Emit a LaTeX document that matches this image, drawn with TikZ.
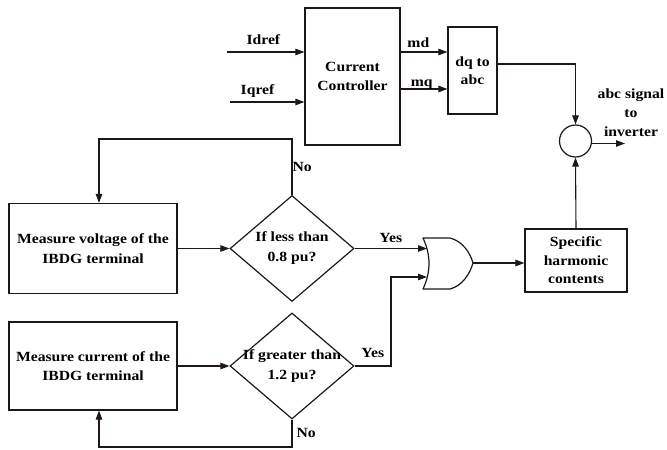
\documentclass[tikz,border=0pt]{standalone}
\usepackage{fontspec}
\setmainfont{Liberation Serif}[FakeStretch=1.12]
\definecolor{inkdark}{rgb}{0.12,0.09,0.09}
\usetikzlibrary{arrows.meta,positioning,shapes.geometric}

\begin{document}
\begin{tikzpicture}[x=1pt,y=-1pt,
    blk/.style={draw=inkdark,line width=1.2pt,align=center,inner sep=0pt,
      font=\bfseries\fontsize{14}{19.5}\selectfont},
    decision/.style={diamond,draw=inkdark,line width=1.2pt,inner sep=0pt,
      minimum width=124pt,minimum height=106pt},
    lbl/.style={font=\bfseries\fontsize{14}{19}\selectfont,align=center,inner sep=0pt},
    arr/.style={-{Triangle[length=9pt,width=6.5pt]},draw=inkdark,line width=1.1pt},
    wire/.style={draw=inkdark,line width=1.1pt}]
  \useasboundingbox (0,0) rectangle (667,450);
  % control path
  \node[blk,minimum width=95pt,minimum height=137pt] (cc) at (352.5,76.5) {Current\\Controller};
  \node[blk,minimum width=49pt,minimum height=87pt,font=\bfseries\fontsize{14}{18}\selectfont] (dq) at (472.5,70.5) {dq to\\abc};
  \node[circle,draw=inkdark,line width=1.2pt,minimum size=32pt,inner sep=0pt] (sum) at (575.5,141) {};
  \coordinate (idref) at (227,52);
  \coordinate (iqref) at (230,102);
  \coordinate (sigout) at (625,143.5);
  \draw[arr] (idref) -- node[lbl,pos=0.47,anchor=base,yshift=8pt] {Idref} (idref -| cc.west);
  \draw[arr] (iqref) -- node[lbl,pos=0.37,anchor=base,yshift=8pt] {Iqref} (iqref -| cc.west);
  \draw[arr] ([yshift=24.5pt]cc.east) -- node[lbl,pos=0.38,anchor=base,yshift=5pt] {md} ([yshift=24.5pt]cc.east -| dq.west);
  \draw[arr] ([yshift=-12.5pt]cc.east) -- node[lbl,pos=0.45,anchor=base,yshift=3pt] {mq} ([yshift=-12.5pt]cc.east -| dq.west);
  \draw[arr] ([yshift=6.5pt]dq.east) -| (sum.north);
  \draw[arr] (sum.east |- sigout) -- (sigout);
  \node[lbl] (siglbl) at (631,113) {abc signal\\to\\inverter};
  % fault detection
  \node[blk,minimum width=168pt,minimum height=90pt] (mv) at (93,248.5) {Measure voltage of the\\IBDG terminal};
  \node[blk,minimum width=168pt,minimum height=88pt] (mc) at (93,366) {Measure current of the\\IBDG terminal};
  \node[decision] (d1) at (292,248.5) {};
  \node[lbl,font=\bfseries\fontsize{14}{20}\selectfont] (d1txt) at (d1) {If less than\\0.8 pu?};
  \node[decision] (d2) at (292,366) {};
  \node[lbl,font=\bfseries\fontsize{14}{20}\selectfont] (d2txt) at (d2) {If greater than\\1.2 pu?};
  \node[blk,minimum width=102pt,minimum height=63pt,font=\bfseries\fontsize{14}{18.5}\selectfont] (hc) at (576,260.5) {Specific\\harmonic\\contents};
  \coordinate (nv) at (99,139);
  \coordinate (nc) at (99,447);
  \draw[arr] (mv.east) -- (d1.west);
  \draw[arr] (mc.east) -- (d2.west);
  \draw[arr] (d1.north) |- node[lbl,pos=0.25,right] {No} (nv) -- (nv |- mv.north);
  \draw[arr] (d2.south) |- node[lbl,pos=0.25,right=4pt] {No} (nc) -- (nc |- mc.south);
  % or gate
  \coordinate (orin1) at (427,248.5);
  \coordinate (orin2) at (427,277);
  \coordinate (orout) at (473,263);
  \draw[draw=inkdark,line width=1.2pt,line join=round] (423,238) -- (450,238)
    .. controls (462,241) and (470,252) .. (orout)
    .. controls (470,274) and (462,286) .. (450,289) -- (423,289)
    .. controls (431,272) and (431,255) .. (423,238) -- cycle;
  \draw[arr] (d1.east) -- node[lbl,midway,anchor=base,yshift=6pt] {Yes} (orin1);
  \draw[arr] (d2.east) -- node[lbl,midway,anchor=base,yshift=9pt] {Yes} (391,366) |- (orin2);
  \draw[arr] (orout) -- (orout -| hc.west);
  \draw[arr] (hc.north) -- (sum.south);
\end{tikzpicture}
\end{document}
